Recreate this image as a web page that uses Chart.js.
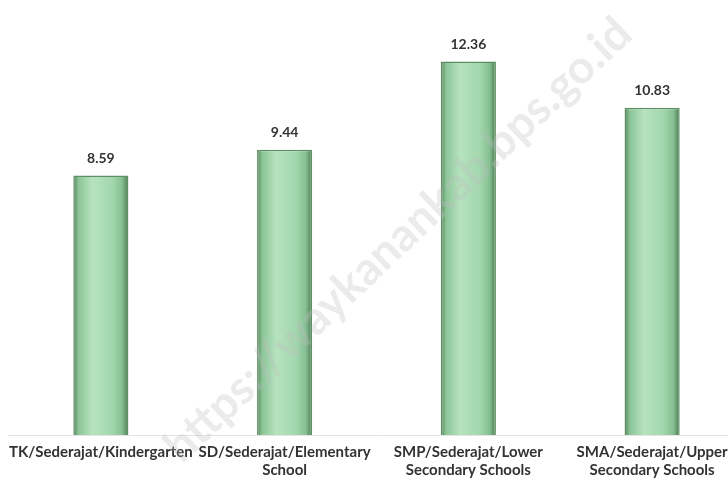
<!DOCTYPE html>
<html>
<head>
<meta charset="utf-8">
<script src="https://cdn.jsdelivr.net/npm/chart.js@4/dist/chart.umd.min.js"></script>
<style>
  html, body { margin: 0; padding: 0; background: #fff; overflow: hidden; }
  #wrap { position: relative; width: 744px; height: 487px; }
</style>
</head>
<body>
<div id="wrap"><canvas id="chart"></canvas></div>
<script>
const kategori = [
  "TK/Sederajat/Kindergarten",
  ["SD/Sederajat/Elementary", "School"],
  ["SMP/Sederajat/Lower", "Secondary Schools"],
  ["SMA/Sederajat/Upper", "Secondary Schools"],
];
const nilai = [8.59, 9.44, 12.36, 10.83];
const watermark = "https://waykanankab.bps.go.id";

const FONTE = "Lato, 'Open Sans', sans-serif";

function corBarra(context) {
  const chart = context.chart;
  const x = chart.scales && chart.scales.x;
  if (!x || x.left === undefined || context.dataIndex === undefined) return "#a6d9b0";
  const cx = x.getPixelForValue(context.dataIndex);
  const g = chart.ctx.createLinearGradient(cx - 28, 0, cx + 28, 0);
  g.addColorStop(0, "#4f7f55");
  g.addColorStop(0.1, "#8cc497");
  g.addColorStop(0.35, "#b6e3be");
  g.addColorStop(0.7, "#a3d7ae");
  g.addColorStop(0.88, "#86bf92");
  g.addColorStop(1, "#44744a");
  return g;
}

const rotulosValor = {
  id: "rotulosValor",
  afterDatasetsDraw(chart) {
    const ctx = chart.ctx;
    const meta = chart.getDatasetMeta(0);
    ctx.save();
    ctx.font = "bold 14px " + FONTE;
    ctx.fillStyle = "#333";
    ctx.textAlign = "center";
    ctx.textBaseline = "bottom";
    meta.data.forEach((bar, i) => {
      ctx.fillText(nilai[i].toFixed(2), bar.x, bar.y - 10);
    });
    ctx.restore();
  },
};

const marcaDagua = {
  id: "marcaDagua",
  afterDraw(chart) {
    const ctx = chart.ctx;
    ctx.save();
    ctx.translate(398, 240);
    ctx.rotate(-Math.PI / 4.15);
    ctx.font = "bold 46px " + FONTE;
    ctx.fillStyle = "rgba(190,190,190,0.3)";
    ctx.textAlign = "center";
    ctx.textBaseline = "middle";
    ctx.fillText(watermark, 0, 0);
    ctx.restore();
  },
};

new Chart(document.getElementById("chart"), {
  type: "bar",
  data: {
    labels: kategori,
    datasets: [{
      data: nilai,
      backgroundColor: corBarra,
      borderColor: "#5e8f64",
      borderWidth: 1.5,
      barPercentage: 0.6,
      categoryPercentage: 0.5,
    }],
  },
  options: {
    responsive: true,
    maintainAspectRatio: false,
    animation: false,
    layout: { padding: { left: 8, right: 0, top: 12, bottom: 0 } },
    plugins: { legend: { display: false }, tooltip: { enabled: false } },
    scales: {
      x: {
        grid: { display: false, drawTicks: false },
        border: { display: true, color: "#e4e4e4", width: 1 },
        ticks: {
          color: "#333",
          font: { family: FONTE, size: 15, weight: "bold", lineHeight: 1.2 },
          padding: 8,
          maxRotation: 0,
          autoSkip: false,
        },
      },
      y: {
        display: false,
        min: 0,
        max: 14,
      },
    },
  },
  plugins: [rotulosValor, marcaDagua],
});
</script>
</body>
</html>
